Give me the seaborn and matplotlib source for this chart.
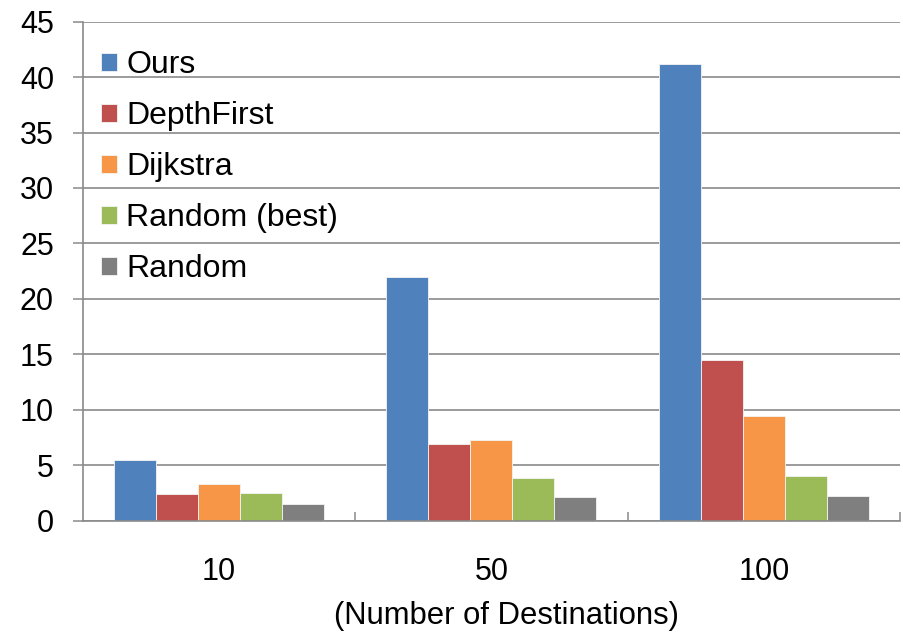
import matplotlib
matplotlib.use("Agg")
import matplotlib.pyplot as plt
from matplotlib.ticker import FixedLocator, MultipleLocator
import pandas as pd
import seaborn as sns

# Number of destinations (x categories)
destinations = ["10", "50", "100"]
# Methods compared (hue)
methods = ["Ours", "DepthFirst", "Dijkstra", "Random (best)", "Random"]

# Values per method, one entry per destination count
ours = [5.5, 22.0, 41.2]
depth_first = [2.4, 6.9, 14.5]
dijkstra = [3.3, 7.3, 9.4]
random_best = [2.5, 3.8, 4.0]
random_plain = [1.5, 2.1, 2.2]

colors = ["#4F81BD", "#C0504D", "#F79646", "#9BBB59", "#7F7F7F"]

series = [ours, depth_first, dijkstra, random_best, random_plain]
records = []
for method, values in zip(methods, series):
    for dest, val in zip(destinations, values):
        records.append({"dest": dest, "value": val, "method": method})
df = pd.DataFrame(records)

sns.set_theme(style="white")
plt.rcParams["font.family"] = ["Liberation Sans", "DejaVu Sans"]
plt.rcParams["text.color"] = "black"
plt.rcParams["axes.labelcolor"] = "black"
plt.rcParams["xtick.color"] = "black"
plt.rcParams["ytick.color"] = "black"

W, H = 904, 633
fig = plt.figure(figsize=(W / 100, H / 100), dpi=100)
x0, x1, ytop, ybot = 82.7, 900.0, 21.7, 520.5
ax = fig.add_axes([x0 / W, (H - ybot) / H, (x1 - x0) / W, (ybot - ytop) / H])

sns.barplot(
    data=df, x="dest", y="value", hue="method",
    order=destinations, hue_order=methods,
    palette=colors, saturation=1, width=0.771,
    edgecolor="#f4f4f4", linewidth=0.6, ax=ax,
)

grey = "#8a8a8a"
ax.set_ylim(0, 45)
ax.set_xlim(-0.5, 2.5)
ax.yaxis.set_major_locator(MultipleLocator(5))
ax.set_axisbelow(True)
ax.yaxis.grid(True, color=grey, linewidth=1.2)
ax.xaxis.grid(False)

for side in ("top", "right"):
    ax.spines[side].set_visible(False)
for side in ("left", "bottom"):
    ax.spines[side].set_color(grey)
    ax.spines[side].set_linewidth(1.2)

ax.tick_params(axis="y", which="major", direction="out", length=7.2, width=1.1,
               color=grey, labelsize=22, pad=13.5, left=True, labelcolor="black")
ax.xaxis.set_minor_locator(FixedLocator([0.5, 1.5, 2.5]))
ax.tick_params(axis="x", which="major", direction="in", length=4.3, width=1.1,
               color=grey, labelsize=22, pad=26, bottom=True, labelcolor="black")
ax.tick_params(axis="x", which="minor", direction="in", length=6.5, width=1.1,
               color=grey, bottom=True)

ax.set_ylabel("")
ax.set_xlabel("(Number of Destinations)", fontsize=22.3, color="black")
ax.xaxis.set_label_coords((506.5 - x0) / (x1 - x0), (ybot - 601) / (ybot - ytop))

handles, labels = ax.get_legend_handles_labels()
ax.legend(
    handles, labels, loc="upper left",
    bbox_to_anchor=(101 / W, (H - 50) / H), bbox_transform=fig.transFigure,
    frameon=False, fontsize=23, borderpad=0, borderaxespad=0,
    handlelength=0.5, handleheight=0.5, handletextpad=0.29,
    labelspacing=0.66, labelcolor="black",
)

fig.savefig("out.png", dpi=100, facecolor="white")
